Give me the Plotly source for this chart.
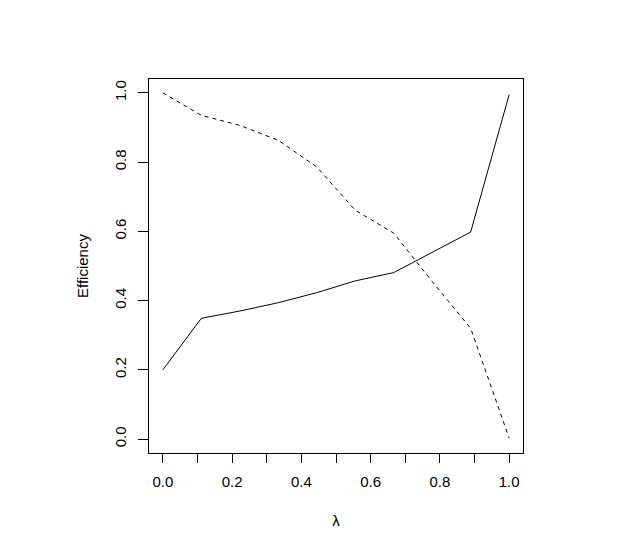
import plotly.graph_objects as go

lam = [0, 1/9, 2/9, 3/9, 4/9, 5/9, 6/9, 7/9, 8/9, 1]
eff_solid = [0.200, 0.349, 0.370, 0.394, 0.423, 0.457, 0.481, 0.540, 0.598, 0.995]
eff_dashed = [1.000, 0.935, 0.906, 0.863, 0.786, 0.661, 0.595, 0.455, 0.320, 0.003]

xtickvals = [i / 10 for i in range(11)]
xticktext = ["0.0", "", "0.2", "", "0.4", "", "0.6", "", "0.8", "", "1.0"]
ytickvals = [0.0, 0.2, 0.4, 0.6, 0.8, 1.0]
yticktext = ["0.0", "0.2", "0.4", "0.6", "0.8", "1.0"]

font = dict(family="Liberation Sans, Arial", size=15, color="black")

fig = go.Figure()
fig.add_trace(go.Scatter(x=lam, y=eff_solid, mode="lines",
                         line=dict(color="black", width=1), showlegend=False))
fig.add_trace(go.Scatter(x=lam, y=eff_dashed, mode="lines",
                         line=dict(color="black", width=1, dash="4px,4px"), showlegend=False))

fig.update_layout(
    width=634, height=551,
    margin=dict(l=149, r=111, t=79, b=98),
    plot_bgcolor="white", paper_bgcolor="white",
    font=font,
    xaxis=dict(range=[-0.04, 1.04], tickvals=xtickvals, ticktext=xticktext,
               ticks="outside", ticklen=9, tickcolor="black", tickwidth=1,
               showline=True, linecolor="black", linewidth=1, mirror=True,
               showgrid=False, zeroline=False, ticklabelstandoff=6,
               title=dict(text="λ", standoff=26, font=font)),
    yaxis=dict(range=[-0.04, 1.04], tickvals=ytickvals, ticktext=yticktext,
               ticks="outside", ticklen=10, tickcolor="black", tickwidth=1,
               showline=True, linecolor="black", linewidth=1, mirror=True,
               showgrid=False, zeroline=False, tickangle=-90, ticklabelstandoff=6,
               title=dict(text="Efficiency", standoff=19, font=font)),
)

fig.write_html("out.html")
